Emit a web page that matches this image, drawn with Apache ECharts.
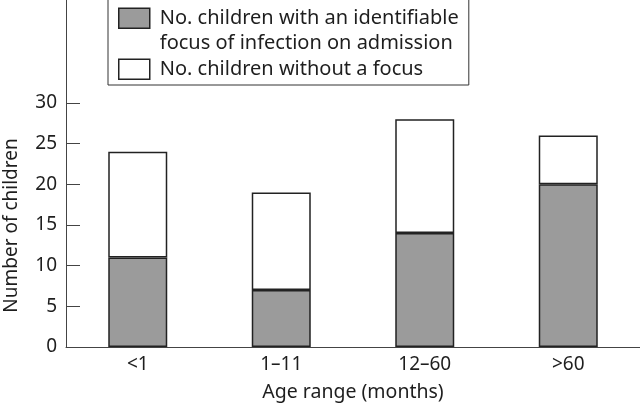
<!DOCTYPE html>
<html>
<head>
<meta charset="utf-8">
<script src="https://cdn.jsdelivr.net/npm/echarts@6/dist/echarts.min.js"></script>
<style>html,body{margin:0;padding:0;background:#fff}#c{width:640px;height:404px}</style>
</head>
<body>
<div id="c"></div>
<script>
const categories = ['<1', '1\u201311', '12\u201360', '>60'];
const withFocus = [11, 7, 14, 20];
const withoutFocus = [13, 12, 14, 6];
const yTicks = [0, 5, 10, 15, 20, 25, 30];
const nameWith = 'No. children with an identifiable\nfocus of infection on admission';
const nameWithout = 'No. children without a focus';

const FONT = 'Noto Sans';
const INK = '#1e1e1e';
const chart = echarts.init(document.getElementById('c'), null, {renderer: 'canvas'});
chart.setOption({
  animation: false,
  backgroundColor: '#fff',
  textStyle: {fontFamily: FONT, color: INK},
  grid: {left: 66, right: 0, top: 0, bottom: 57, containLabel: false, outerBoundsMode: 'none'},
  legend: {
    orient: 'vertical',
    left: 108,
    top: -20,
    padding: [0, 10, 3, 10],
    itemGap: 0,
    itemWidth: 31,
    itemHeight: 20,
    borderColor: '#333',
    borderWidth: 1,
    icon: 'rect',
    itemStyle: {borderColor: '#222', borderWidth: 1.5},
    textStyle: {fontFamily: FONT, fontSize: 20, color: INK, lineHeight: 25.5, padding: [0, 0, 0, 5]},
    formatter: function (n) { return n === nameWith ? '\n' + n : n; },
    data: [nameWith, nameWithout]
  },
  xAxis: {
    type: 'category',
    data: categories,
    name: 'Age range (months)',
    nameLocation: 'middle',
    nameGap: 35,
    nameTextStyle: {fontFamily: FONT, fontSize: 19.5, color: INK},
    axisLine: {lineStyle: {color: '#444', width: 1}},
    axisTick: {inside: true, length: 15, lineStyle: {color: '#444'}},
    axisLabel: {fontFamily: FONT, fontSize: 19, color: INK, margin: 8}
  },
  yAxis: {
    type: 'value',
    min: 0,
    max: 42.66,
    name: 'Number of children',
    nameLocation: 'middle',
    nameGap: 45,
    nameTextStyle: {fontFamily: FONT, fontSize: 19, color: INK, padding: [0, 104, 0, 0]},
    splitLine: {show: false},
    axisLine: {show: true, lineStyle: {color: '#444', width: 1}},
    axisTick: {show: true, inside: true, length: 14, customValues: yTicks, lineStyle: {color: '#444'}},
    axisLabel: {fontFamily: FONT, fontSize: 19, color: INK, margin: 9, customValues: yTicks}
  },
  series: [
    {
      name: nameWith, type: 'bar', stack: 'total', data: withFocus, barWidth: 59,
      itemStyle: {color: '#9b9b9b', borderColor: '#222', borderWidth: 1.5}
    },
    {
      name: nameWithout, type: 'bar', stack: 'total', data: withoutFocus, barWidth: 59,
      itemStyle: {color: '#ffffff', borderColor: '#222', borderWidth: 1.5}
    }
  ]
});
</script>
</body>
</html>
